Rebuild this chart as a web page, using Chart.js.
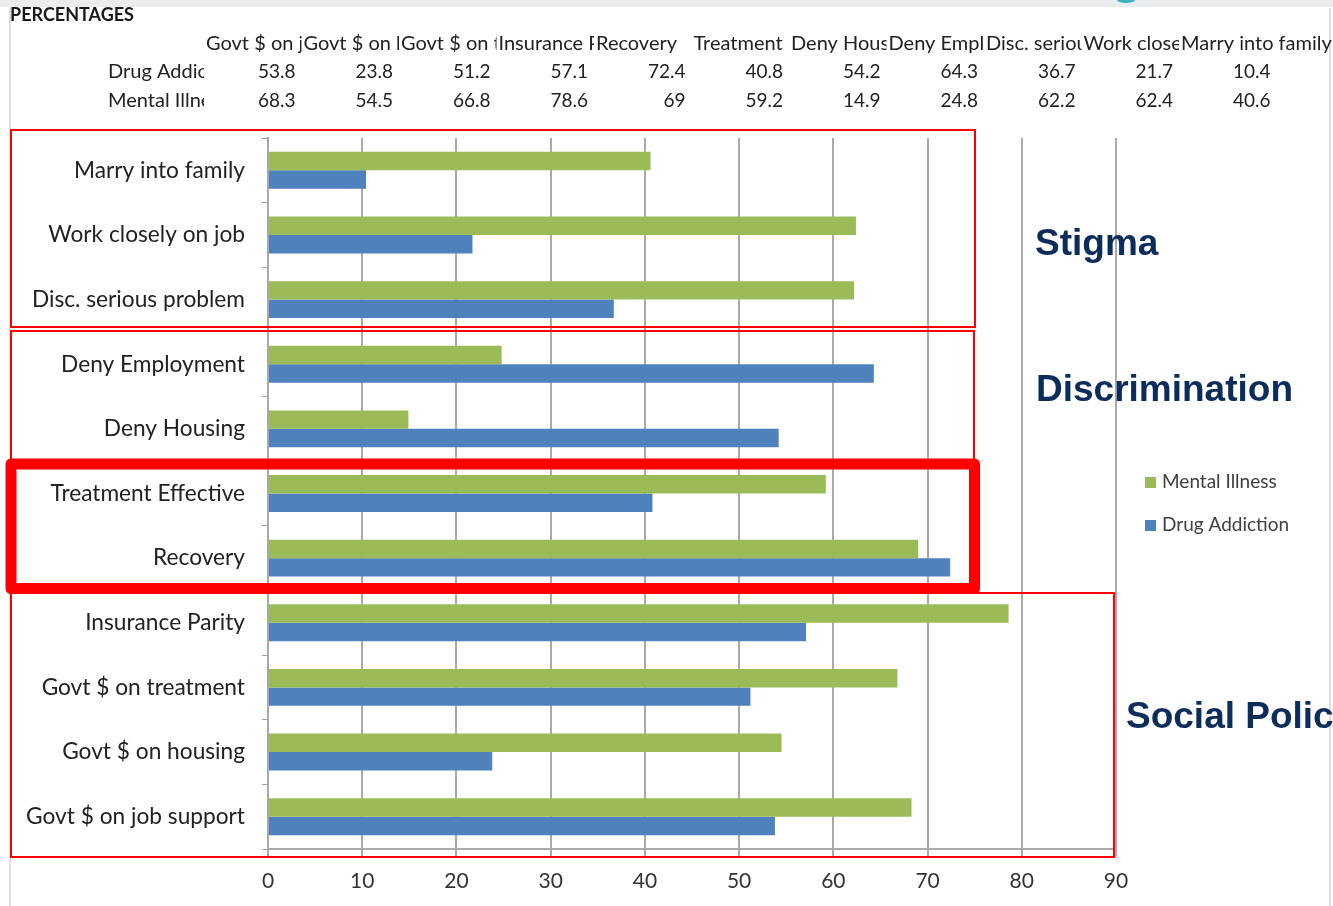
<!DOCTYPE html>
<html>
<head>
<meta charset="utf-8">
<script src="https://cdn.jsdelivr.net/npm/chart.js@4.4.1/dist/chart.umd.min.js"></script>
<style>
  html, body { margin: 0; padding: 0; background: #fff; }
  #wrap { width: 1333px; height: 906px; }
</style>
</head>
<body>
<div id="wrap"><canvas id="c" width="1333" height="906"></canvas></div>
<script>
// Survey items, in worksheet order (the chart lists them bottom to top)
const categories = [
  'Govt $ on job support', 'Govt $ on housing', 'Govt $ on treatment',
  'Insurance Parity', 'Recovery', 'Treatment Effective', 'Deny Housing',
  'Deny Employment', 'Disc. serious problem', 'Work closely on job', 'Marry into family'
];
const drugAddiction = [53.8, 23.8, 51.2, 57.1, 72.4, 40.8, 54.2, 64.3, 36.7, 21.7, 10.4];
const mentalIllness = [68.3, 54.5, 66.8, 78.6, 69, 59.2, 14.9, 24.8, 62.2, 62.4, 40.6];
const seriesNames = ['Drug Addiction', 'Mental Illness'];
const sectionTitles = ['Stigma', 'Discrimination', 'Social Policy'];
const tableTitle = 'PERCENTAGES';
const axisMax = 90;
const axisStep = 10;

const GREEN = '#9bbb59';
const BLUE = '#4f81bd';
const NAVY = '#0c2c5c';
const RED = '#ff0000';
const FONT = 'Lato, "Open Sans", sans-serif';

// Worksheet grid above the chart, the frame, the highlight boxes and the labels
const decorations = {
  id: 'decorations',
  beforeDraw(chart) {
    const ctx = chart.ctx;
    ctx.save();
    ctx.fillStyle = '#ffffff';
    ctx.fillRect(0, 0, chart.width, chart.height);
    ctx.fillStyle = '#e9edf0';
    ctx.fillRect(0, 0, chart.width, 7);
    ctx.fillStyle = '#3bb3c3';
    ctx.beginPath();
    ctx.ellipse(1126, 0, 9, 3, 0, 0, Math.PI);
    ctx.fill();
    ctx.strokeStyle = '#d4d4d4';
    ctx.lineWidth = 1.5;
    ctx.beginPath();
    ctx.moveTo(10, 8); ctx.lineTo(10, 906);
    ctx.moveTo(1330, 8); ctx.lineTo(1330, 906);
    ctx.stroke();
    ctx.restore();
  },
  afterDraw(chart) {
    const ctx = chart.ctx;
    ctx.save();

    // table title
    ctx.fillStyle = '#1a1a1a';
    ctx.font = 'bold 18px ' + FONT;
    ctx.textBaseline = 'middle';
    ctx.textAlign = 'left';
    ctx.fillText(tableTitle, 10, 15);

    // table cells
    const colW = 97.5, col0 = 204, labelX = 106;
    const rowY = [44, 72, 101];
    ctx.font = '20px ' + FONT;
    ctx.fillStyle = '#222';
    categories.forEach((name, i) => {
      const x0 = col0 + i * colW;
      const w = i === categories.length - 1 ? 160 : colW;
      ctx.save();
      ctx.beginPath();
      ctx.rect(x0, rowY[0] - 14, w, 28);
      ctx.clip();
      ctx.textAlign = 'left';
      ctx.fillText(name, x0 + 2, rowY[0]);
      ctx.restore();
    });
    const rows = [[seriesNames[0], drugAddiction], [seriesNames[1], mentalIllness]];
    rows.forEach(([name, vals], r) => {
      const y = rowY[r + 1];
      ctx.font = '20px ' + FONT;
      ctx.save();
      ctx.beginPath();
      ctx.rect(labelX, y - 14, col0 - labelX, 28);
      ctx.clip();
      ctx.textAlign = 'left';
      ctx.fillText(name, labelX + 2, y);
      ctx.restore();
      ctx.font = '19px ' + FONT;
      ctx.textAlign = 'right';
      vals.forEach((v, i) => {
        ctx.fillText(String(v), col0 + i * colW + colW - 6, y);
      });
    });

    // highlight boxes around the item groups
    ctx.strokeStyle = RED;
    ctx.lineWidth = 2;
    ctx.strokeRect(11, 130, 964, 197);
    ctx.strokeRect(11, 331, 963, 129);
    ctx.strokeRect(11, 593, 1103, 264);
    ctx.lineWidth = 11;
    ctx.lineJoin = 'round';
    ctx.strokeRect(11, 464, 963.5, 124.5);

    // section titles
    ctx.fillStyle = NAVY;
    ctx.font = 'bold 37px "Liberation Sans", Arial, sans-serif';
    ctx.textAlign = 'left';
    ctx.textBaseline = 'alphabetic';
    ctx.fillText(sectionTitles[0], 1035, 255);
    ctx.fillText(sectionTitles[1], 1036, 401);
    ctx.fillText(sectionTitles[2], 1126, 728);

    // legend
    ctx.font = '19px ' + FONT;
    ctx.textBaseline = 'middle';
    const items = chart.data.datasets;
    items.forEach((ds, i) => {
      const y = 482 + i * 43;
      ctx.fillStyle = ds.backgroundColor;
      ctx.fillRect(1145, y - 5, 11, 11);
      ctx.fillStyle = '#404040';
      ctx.fillText(ds.label, 1162, y);
    });
    ctx.restore();
  }
};

function build() {
  const labels = categories.slice().reverse();
  new Chart(document.getElementById('c'), {
    type: 'bar',
    data: {
      labels: labels,
      datasets: [
        { label: seriesNames[1], data: mentalIllness.slice().reverse(), backgroundColor: GREEN,
          categoryPercentage: 0.571, barPercentage: 1 },
        { label: seriesNames[0], data: drugAddiction.slice().reverse(), backgroundColor: BLUE,
          categoryPercentage: 0.571, barPercentage: 1 }
      ]
    },
    options: {
      indexAxis: 'y',
      responsive: false,
      animation: false,
      devicePixelRatio: 1,
      layout: { padding: { top: 138, right: 217, left: 0, bottom: 0 } },
      plugins: { legend: { display: false }, tooltip: { enabled: false } },
      scales: {
        x: {
          min: 0, max: axisMax,
          ticks: { stepSize: axisStep, color: '#333', font: { family: FONT, size: 21 }, padding: 12 },
          grid: { color: '#aaaaaa', lineWidth: 2, tickLength: 8 },
          border: { color: '#aaaaaa', width: 2 },
          afterFit(s) { s.height = 57; }
        },
        y: {
          ticks: { color: '#222', font: { family: FONT, size: 22.7 }, padding: 17 },
          grid: { drawOnChartArea: false, color: '#a0a0a0', tickLength: 6, offset: true },
          border: { color: '#a8a8a8', width: 2 },
          afterFit(s) { s.width = 268; }
        }
      }
    },
    plugins: [decorations]
  });
}

if (document.fonts && document.fonts.load) {
  Promise.all([
    document.fonts.load('21px Lato'),
    document.fonts.load('bold 16px Lato'),
    document.fonts.load('bold 37px "Liberation Sans"')
  ]).then(build, build);
} else {
  build();
}
</script>
</body>
</html>
